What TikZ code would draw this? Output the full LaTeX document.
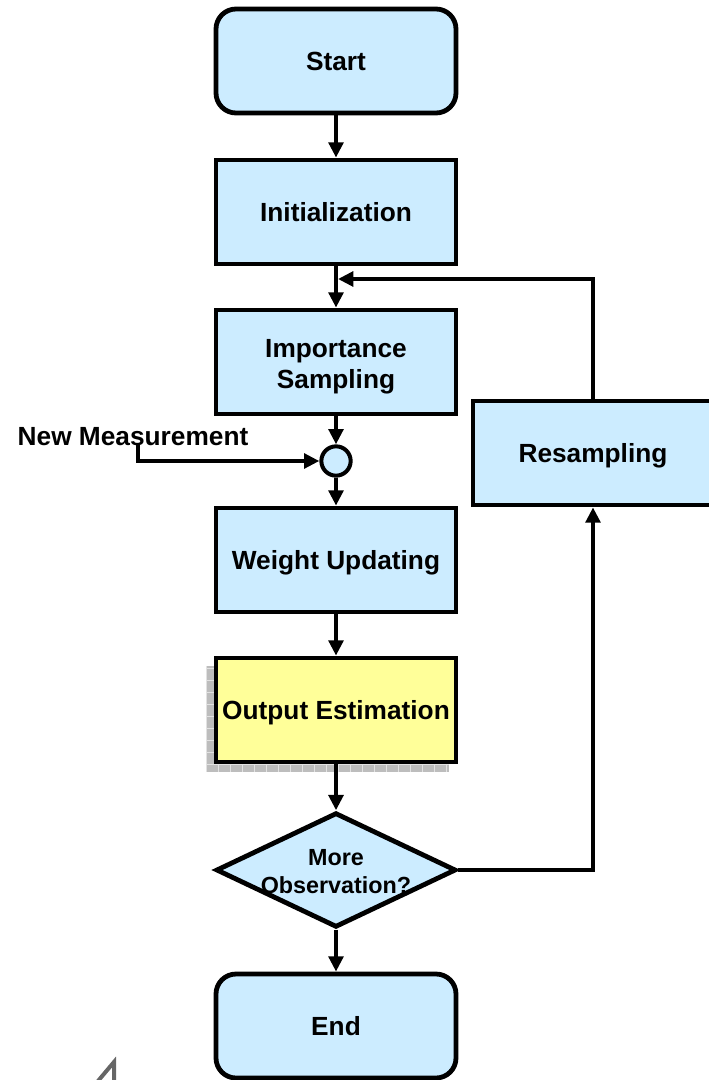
\documentclass[tikz,border=0pt]{standalone}
\usepackage{fontspec}
\setmainfont{Liberation Sans}
\usetikzlibrary{arrows.meta,shapes.geometric}
\definecolor{boxblue}{HTML}{CCECFF}
\definecolor{boxyellow}{HTML}{FFFF99}
\definecolor{shadowgray}{HTML}{BDBDBD}
\definecolor{gridgray}{HTML}{E2E2E2}
\tikzset{
  lbl/.style={font=\bfseries\fontsize{19.7}{24}\selectfont, align=center},
  process/.style={draw=black, line width=3.6pt, fill=boxblue,
    minimum width=180pt, minimum height=78pt, inner sep=0pt, lbl, text depth=0pt},
  terminal/.style={process, rounded corners=15pt},
  decision/.style={draw=black, line width=3.6pt, fill=boxblue, diamond,
    minimum width=180pt, minimum height=86pt, inner sep=0pt},
  junction/.style={draw=black, line width=3pt, fill=boxblue, circle,
    minimum size=22pt, inner sep=0pt},
  flow/.style={draw=black, line width=3pt,
    -{Triangle[length=11.5pt, width=11pt]}},
  plain/.style={draw=black, line width=3pt},
}
\begin{document}
\begin{tikzpicture}[x=0.75pt, y=-0.75pt]
\useasboundingbox (0,0) rectangle (709,1080);
\clip (0,0) rectangle (709,1080);

% main column
\node[terminal] (start) at (336,61) {Start};
\node[process] (init) at (336,212) {Initialization};
\node[process] (imp) at (336,362) {\raisebox{-3pt}{\shortstack{Importance\\[2pt]Sampling}}};
\node[junction] (sum) at (336,461) {};
\node[process] (wu) at (336,560) {Weight Updating};

% patterned drop shadow behind the estimation box
\begin{scope}
  \clip (206,666) rectangle (449,772);
  \fill[shadowgray] (206,666) rectangle (449,772);
  \foreach \gx in {206,218,...,450} \draw[gridgray, line width=0.7pt] (\gx,666) -- (\gx,772);
  \foreach \gy in {668,680,...,772} \draw[gridgray, line width=0.7pt] (206,\gy) -- (449,\gy);
\end{scope}
\node[process, fill=boxyellow] (out) at (336,710) {Output Estimation};

\node[decision] (dec) at (336,870) {};
\node[font=\bfseries\fontsize{17.5}{21}\selectfont, align=center] (dectext) at ([yshift=-1.5pt]dec.center) {More\\Observation?};
\node[terminal] (end) at (336,1026) {End};

% side branch
\node[process] (res) at (593,453) {Resampling};
\node[lbl, anchor=west] (nm) at (13,437) {New Measurement};

% connectors
\coordinate (merge) at (338,279);
\coordinate (nmtap) at (138,443);
\draw[flow] (start) -- (init);
\draw[flow] (init.south) -- (imp.north);
\draw[flow] (imp) -- (sum);
\draw[flow] (nmtap) |- (sum.west);
\draw[flow] (sum) -- (wu);
\draw[flow] (wu) -- (out);
\draw[flow] (out) -- (dec.north);
\draw[flow] (dec.south) -- (end);
\draw[flow] (dec.east) -| (res.south);
\draw[flow] (res.north) |- (merge);

% small grey mark in the lower left corner
\draw[gray!80!black, line width=3pt] (98,1081) -- (114,1062) -- (114,1081);
\end{tikzpicture}
\end{document}
